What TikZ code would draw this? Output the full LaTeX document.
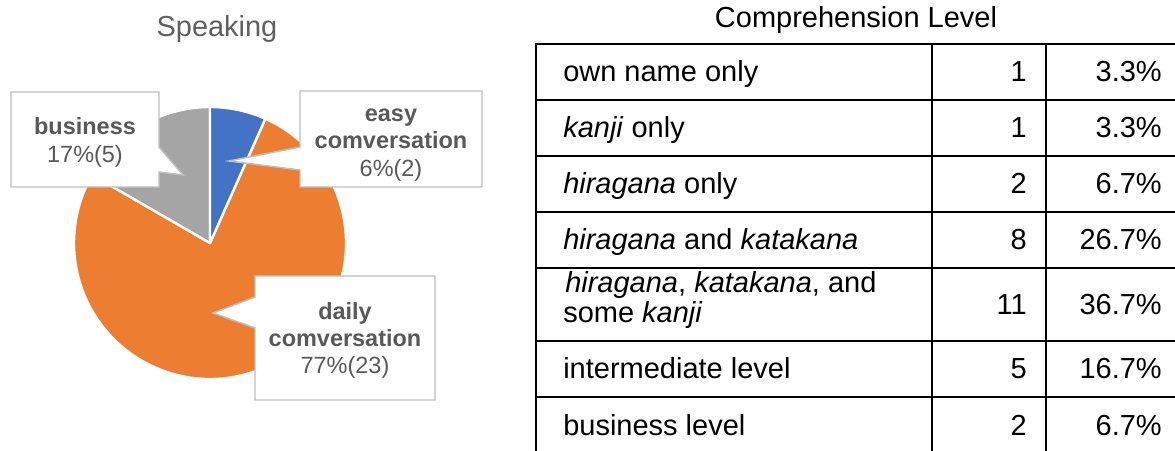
\documentclass[tikz,border=0pt]{standalone}
\usepackage{fontspec}
\setmainfont{Liberation Sans}
\usetikzlibrary{calc}

\definecolor{pieblue}{HTML}{4472C4}
\definecolor{pieorange}{HTML}{ED7D31}
\definecolor{piegray}{HTML}{A5A5A5}
\definecolor{labelgray}{HTML}{595959}
\definecolor{titlegray}{HTML}{606060}
\definecolor{boxline}{HTML}{BFBFBF}

\begin{document}
\begin{tikzpicture}[
	x=0.75pt,y=0.75pt,
	slice/.style={draw=white,line width=1.8pt,line join=round},
	callout/.style={draw=boxline,fill=white,line width=1.1pt},
	calltext/.style={text=labelgray,anchor=base,inner sep=0pt,font=\fontsize{17.6}{20}\selectfont},
	cell/.style={inner sep=0pt,font=\fontsize{21.75}{24}\selectfont},
	tabline/.style={line width=1.4pt,line cap=rect}
]
\useasboundingbox (0,0) rectangle (1175,450);
% pie chart
\coordinate (c) at (210,207);
\node[anchor=base,inner sep=0pt,text=titlegray,font=\fontsize{21.7}{26}\selectfont] (speak) at (217,413) {Speaking};
\filldraw[slice,fill=pieorange] (c) -- ++(66:136) arc[start angle=66,end angle=-210,radius=136] -- cycle;
\filldraw[slice,fill=piegray] (c) -- ++(150:136) arc[start angle=150,end angle=90,radius=136] -- cycle;
\filldraw[slice,fill=pieblue] (c) -- ++(90:136) arc[start angle=90,end angle=66,radius=136] -- cycle;
% callouts
\draw[callout] (11,358) -- (159,358) -- (159,303) -- (183,275) -- (159,278) -- (159,263) -- (11,263) -- cycle;
\node[calltext] (bus1) at (85,315) {\textbf{business}};
\node[calltext] (bus2) at (85,287) {17\%(5)};
\draw[callout] (300,359) -- (482,359) -- (482,263) -- (300,263) -- (300,280) -- (229,289) -- (300,303) -- cycle;
\node[calltext] (easy1) at (391,328) {\textbf{easy}};
\node[calltext] (easy2) at (391,301) {\textbf{comversation}};
\node[calltext] (easy3) at (391,273) {6\%(2)};
\draw[callout] (255,174) -- (435,174) -- (435,50) -- (255,50) -- (255,122) -- (213,137) -- (255,153) -- cycle;
\node[calltext] (daily1) at (345,130) {\textbf{daily}};
\node[calltext] (daily2) at (345,103) {\textbf{comversation}};
\node[calltext] (daily3) at (345,76) {77\%(23)};
% table
\node[cell,anchor=base] (comp) at (856,422) {Comprehension Level};
\foreach \y in {406,350,294,238,182,109,53}
	\draw[tabline] (536,\y) -- (1175,\y);
\draw[tabline] (536,406) -- (536,0) (932,406) -- (932,0) (1046,406) -- (1046,0);
\node[cell,anchor=base west] (r1a) at (563,368) {own name only};
\node[cell,anchor=base east] (r1n) at (1027,368) {1};
\node[cell,anchor=base east] (r1p) at (1162,368) {3.3\%};
\node[cell,anchor=base west] (r2a) at (563,312) {\textit{kanji} only};
\node[cell,anchor=base east] (r2n) at (1027,312) {1};
\node[cell,anchor=base east] (r2p) at (1162,312) {3.3\%};
\node[cell,anchor=base west] (r3a) at (563,256) {\textit{hiragana} only};
\node[cell,anchor=base east] (r3n) at (1027,256) {2};
\node[cell,anchor=base east] (r3p) at (1162,256) {6.7\%};
\node[cell,anchor=base west] (r4a) at (563,200) {\textit{hiragana} and \textit{katakana}};
\node[cell,anchor=base east] (r4n) at (1027,200) {8};
\node[cell,anchor=base east] (r4p) at (1162,200) {26.7\%};
\node[cell,anchor=base west] (r5a) at (565,157) {\textit{hiragana}, \textit{katakana}, and};
\node[cell,anchor=base west] (r5b) at (563,127) {some \textit{kanji}};
\node[cell,anchor=base east] (r5n) at (1027,135.5) {11};
\node[cell,anchor=base east] (r5p) at (1162,135.5) {36.7\%};
\node[cell,anchor=base west] (r6a) at (563,71) {intermediate level};
\node[cell,anchor=base east] (r6n) at (1027,71) {5};
\node[cell,anchor=base east] (r6p) at (1162,71) {16.7\%};
\node[cell,anchor=base west] (r7a) at (563,15) {business level};
\node[cell,anchor=base east] (r7n) at (1027,15) {2};
\node[cell,anchor=base east] (r7p) at (1162,15) {6.7\%};
\end{tikzpicture}
\end{document}
